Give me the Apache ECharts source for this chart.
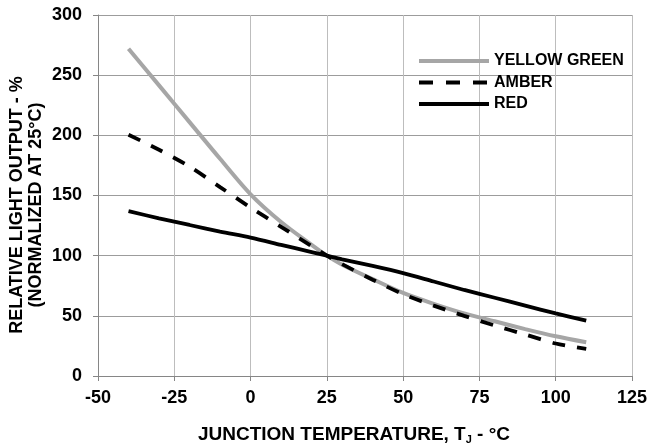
<!DOCTYPE html>
<html>
<head>
<meta charset="utf-8">
<script src="https://cdn.jsdelivr.net/npm/echarts@6/dist/echarts.min.js"></script>
<style>
html, body { margin: 0; padding: 0; background: #fff; }
#chart { width: 651px; height: 448px; }
</style>
</head>
<body>
<div id="chart"></div>
<script>
var dom = document.getElementById("chart");
var myChart = echarts.init(dom);

// junction temperature, degC
var temps = [-40, -30, -20, -10, 0, 10, 20, 25, 30, 40, 50, 60, 70, 80, 90, 100, 110];
// relative light output, % (normalized at 25C)
var yellowGreen = [272, 241.5, 211, 180.5, 151, 128, 109, 100, 92.5, 80.5, 69, 60, 52, 45.5, 39, 33, 28];
var amber = [200.5, 188, 174, 157, 140, 124, 108, 100, 93, 80, 68, 58.5, 50, 42, 34.5, 27, 22.5];
var red = [137, 131, 125.5, 120, 115, 109, 103, 100, 97, 91.5, 85.5, 78.5, 71.5, 65, 58.5, 52, 46];

function pairs(vals) {
    return temps.map(function (t, i) { return [t, vals[i]]; });
}

var font = 'Liberation Sans, Arial, sans-serif';
var grayLine = { color: '#a6a6a6', width: 4 };
var dashLine = { color: '#000', width: 3.8, type: [13, 12] };
var solidLine = { color: '#000', width: 3.8 };

var option = {
    backgroundColor: '#fff',
    animation: false,
    grid: {
        left: 98,
        right: 19,
        top: 15,
        bottom: 72
    },
    legend: {
        orient: 'vertical',
        left: 412,
        top: 48,
        itemWidth: 70,
        itemHeight: 18,
        itemGap: 5.5,
        itemStyle: { opacity: 0 },
        data: [
            { name: 'YELLOW GREEN', lineStyle: grayLine },
            { name: 'AMBER', lineStyle: { color: '#000', width: 3.8, type: [14, 13] } },
            { name: 'RED', lineStyle: solidLine }
        ],
        textStyle: {
            color: '#000',
            fontWeight: 'bold',
            fontSize: 16,
            fontFamily: font
        }
    },
    xAxis: {
        type: 'value',
        min: -50,
        max: 125,
        interval: 25,
        axisLine: { lineStyle: { color: '#868686', width: 1 } },
        axisTick: { show: true, length: 5, lineStyle: { color: '#868686' } },
        axisLabel: {
            margin: 13,
            color: '#000',
            fontWeight: 'bold',
            fontSize: 18,
            fontFamily: font
        },
        splitLine: { show: true, lineStyle: { color: '#bdbdbd', width: 1 } }
    },
    yAxis: {
        type: 'value',
        min: 0,
        max: 300,
        interval: 50,
        axisLine: { show: true, onZero: false, lineStyle: { color: '#868686', width: 1 } },
        axisTick: { show: true, length: 5, lineStyle: { color: '#868686' } },
        axisLabel: {
            margin: 16,
            color: '#000',
            fontWeight: 'bold',
            fontSize: 18,
            fontFamily: font
        },
        splitLine: { show: true, lineStyle: { color: '#9c9c9c', width: 1 } }
    },
    graphic: [
        {
            type: 'text',
            x: 27,
            y: 205,
            rotation: Math.PI / 2,
            style: {
                text: 'RELATIVE LIGHT OUTPUT - %\n(NORMALIZED AT 25°C)',
                align: 'center',
                verticalAlign: 'middle',
                lineHeight: 19,
                fill: '#000',
                font: 'bold 18px ' + font
            }
        },
        {
            type: 'text',
            x: 354,
            y: 435,
            style: {
                text: '{a|JUNCTION TEMPERATURE, T}{s|J}{a| - °C}',
                align: 'center',
                verticalAlign: 'middle',
                rich: {
                    a: { fontSize: 19, fontWeight: 'bold', fontFamily: font, fill: '#000' },
                    s: { fontSize: 11, fontWeight: 'bold', fontFamily: font, fill: '#000', padding: [9, 0, 0, 0] }
                }
            }
        }
    ],
    series: [
        {
            name: 'YELLOW GREEN',
            type: 'line',
            smooth: 0.3,
            symbol: 'none',
            data: pairs(yellowGreen),
            lineStyle: grayLine,
            itemStyle: { color: '#a6a6a6' },
            z: 2
        },
        {
            name: 'AMBER',
            type: 'line',
            smooth: 0.3,
            symbol: 'none',
            data: pairs(amber),
            lineStyle: dashLine,
            itemStyle: { color: '#000' },
            z: 3
        },
        {
            name: 'RED',
            type: 'line',
            smooth: 0.3,
            symbol: 'none',
            data: pairs(red),
            lineStyle: solidLine,
            itemStyle: { color: '#000' },
            z: 4
        }
    ]
};

if (option && typeof option === "object") {
    myChart.setOption(option, true);
}
</script>
</body>
</html>
